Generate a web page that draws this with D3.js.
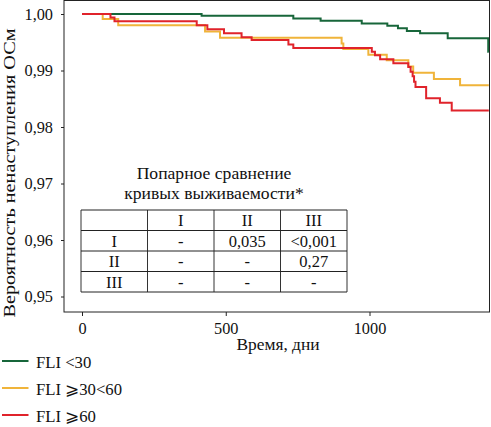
<!DOCTYPE html>
<html>
<head>
<meta charset="utf-8">
<script src="https://cdn.jsdelivr.net/npm/d3@7"></script>
<style>
  body { margin: 0; background: #fff; }
</style>
</head>
<body>
<div class="chart"></div>
<script>
var svgWidth = 491;
var svgHeight = 427;
var serif = "'Liberation Serif', 'Times New Roman', Times, serif";

// survival steps (day of step, survival after the step)
var greenDays = [0, 416, 735, 830, 973, 1062, 1099, 1130, 1176, 1272, 1413];
var greenSurv = [1, 0.9997, 0.9992, 0.9988, 0.9983, 0.9979, 0.9975, 0.9970, 0.9966, 0.9957, 0.9933];

var yellowDays = [0, 72, 126, 428, 480, 903, 909, 996, 1060, 1135, 1152, 1224, 1315];
var yellowSurv = [1, 0.9991, 0.9980, 0.9969, 0.9958, 0.9948, 0.9938, 0.9928, 0.9918, 0.9907, 0.9896, 0.9885, 0.9874];

var redDays = [0, 99, 113, 399, 436, 494, 555, 590, 718, 735, 1008, 1019, 1037, 1083, 1135, 1143, 1150, 1155, 1160, 1197, 1245, 1286];
var redSurv = [1, 0.9994, 0.9987, 0.9980, 0.9973, 0.9966, 0.9959, 0.9954, 0.9946, 0.9940, 0.9933, 0.9927, 0.9920, 0.9913, 0.9906, 0.9898, 0.9890, 0.9880, 0.9871, 0.9851, 0.9843, 0.9829];

var lastDay = 1415;

var seriesNames = ["FLI <30", "FLI \u2A7E30<60", "FLI \u2A7E60"];
var seriesColors = ["#17663a", "#f0b43a", "#e0232b"];

var xTicks = [0, 500, 1000];
var yTicks = [0.95, 0.96, 0.97, 0.98, 0.99, 1.00];

var tableTitle = ["Попарное сравнение", "кривых выживаемости*"];
var tableRows = [
  ["", "I", "II", "III"],
  ["I", "-", "0,035", "<0,001"],
  ["II", "-", "-", "0,27"],
  ["III", "-", "-", "-"]
];

var frame = { left: 64, top: 0.5, right: 489.5, bottom: 312 };

var svg = d3.select(".chart")
  .append("svg")
  .attr("width", svgWidth)
  .attr("height", svgHeight)
  .attr("font-family", serif)
  .attr("font-size", 16);

var xScale = d3.scaleLinear()
  .domain([0, 1000])
  .range([82, 369.5]);

var yScale = d3.scaleLinear()
  .domain([0.95, 1.00])
  .range([296.5, 14]);

var fmt = function(d) { return d3.format(".2f")(d).replace(".", ","); };

// axes
svg.append("g")
  .attr("transform", `translate(0, ${frame.bottom})`)
  .call(d3.axisBottom(xScale).tickValues(xTicks).tickFormat(d3.format("d")).tickSize(4).tickPadding(6))
  .call(g => g.select(".domain").remove())
  .attr("font-family", serif)
  .attr("font-size", 16.3);

svg.append("g")
  .attr("transform", `translate(${frame.left}, 0)`)
  .call(d3.axisLeft(yScale).tickValues(yTicks).tickFormat(fmt).tickSize(3).tickPadding(8))
  .call(g => g.select(".domain").remove())
  .attr("font-family", serif)
  .attr("font-size", 16.3);

svg.selectAll(".tick line").attr("stroke", "#222");
svg.selectAll(".tick text").attr("fill", "#111");

// curves
var series = [
  { days: greenDays, surv: greenSurv },
  { days: yellowDays, surv: yellowSurv },
  { days: redDays, surv: redSurv }
];

var line = d3.line()
  .x(d => xScale(d[0]))
  .y(d => yScale(d[1]))
  .curve(d3.curveStepAfter);

series.forEach(function(s, i) {
  var pts = s.days.map((d, j) => [d, s.surv[j]]);
  pts.push([lastDay, s.surv[s.surv.length - 1]]);
  svg.append("path")
    .datum(pts)
    .attr("fill", "none")
    .attr("stroke", seriesColors[i])
    .attr("stroke-width", 2)
    .attr("d", line);
});

// frame
svg.append("rect")
  .attr("x", frame.left)
  .attr("y", frame.top)
  .attr("width", frame.right - frame.left)
  .attr("height", frame.bottom - frame.top)
  .attr("fill", "none")
  .attr("stroke", "#222")
  .attr("stroke-width", 1);

// axis titles
svg.append("text")
  .attr("x", 278)
  .attr("y", 349.5)
  .attr("text-anchor", "middle")
  .attr("font-size", 17.4)
  .attr("fill", "#111")
  .text("Время, дни");

// the y title in the picture is a bit stretched along its length
svg.append("text")
  .attr("transform", "translate(14.5, 173) rotate(-90) scale(1.16, 1)")
  .attr("text-anchor", "middle")
  .attr("font-size", 17.5)
  .attr("fill", "#111")
  .text("Вероятность ненаступления ОСм");

// comparison table
var tX = [81, 147.5, 214, 280.5, 347];
var tY = [210, 230.5, 251, 271.5, 292];

tableTitle.forEach(function(t, i) {
  svg.append("text")
    .attr("x", 214)
    .attr("y", 179.3 + i * 20)
    .attr("text-anchor", "middle")
    .attr("font-size", 17.6)
    .attr("fill", "#111")
    .text(t);
});

var tab = svg.append("g");
tX.forEach(function(x) {
  tab.append("line")
    .attr("x1", x).attr("x2", x)
    .attr("y1", tY[0]).attr("y2", tY[tY.length - 1])
    .attr("stroke", "#333");
});
tY.forEach(function(y) {
  tab.append("line")
    .attr("x1", tX[0]).attr("x2", tX[tX.length - 1])
    .attr("y1", y).attr("y2", y)
    .attr("stroke", "#222");
});
tableRows.forEach(function(row, r) {
  row.forEach(function(cell, c) {
    tab.append("text")
      .attr("x", (tX[c] + tX[c + 1]) / 2)
      .attr("y", tY[r] + 16)
      .attr("text-anchor", "middle")
      .attr("font-size", 16.5)
      .attr("fill", "#111")
      .text(cell);
  });
});

// legend
var legend = svg.append("g");
seriesNames.forEach(function(name, i) {
  var y = 361 + i * 27;
  legend.append("line")
    .attr("x1", 2).attr("x2", 28.5)
    .attr("y1", y).attr("y2", y)
    .attr("stroke", seriesColors[i])
    .attr("stroke-width", 2);
  legend.append("text")
    .attr("x", 36)
    .attr("y", y + 6.5)
    .attr("font-size", 16.7)
    .attr("fill", "#111")
    .text(name);
});
</script>
</body>
</html>
